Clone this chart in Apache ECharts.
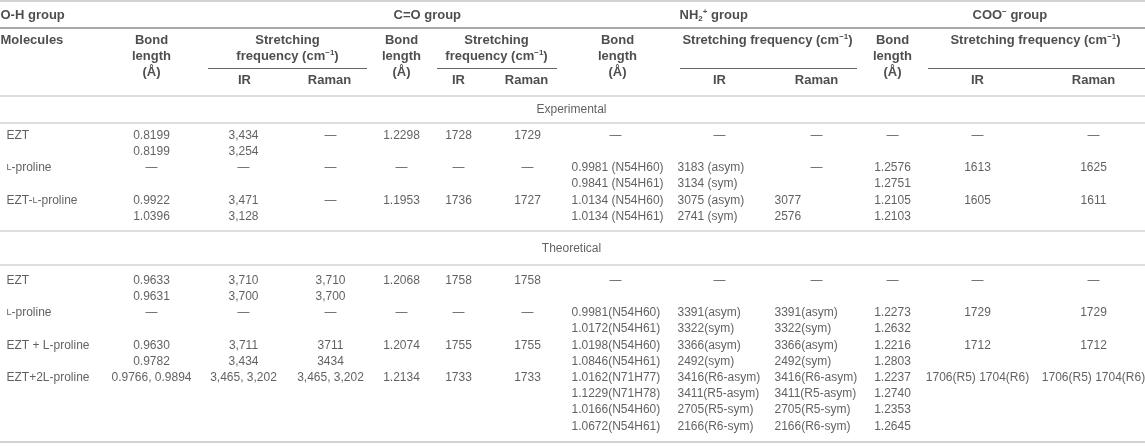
<!DOCTYPE html>
<html lang="en">

<head>
    <meta charset="utf-8">
    <title>bond-table</title>
    <script src="https://cdn.jsdelivr.net/npm/echarts@6/dist/echarts.min.js"></script>
    <style>
        html, body { margin: 0; padding: 0; background: #fff; }
        #container { width: 1145px; height: 446px; }
    </style>
</head>

<body>
<div id="container"></div>
<script>
    // ---- table text ----
    const groupLabels = ["O-H group", "C=O group", "NH{hsub|2}{hsup|+} group", "COO{hsup|\u2212} group"];
    const sectionLabels = ["Experimental", "Theoretical"];
    const subLabels = ["IR", "Raman"];

    // each row: O-H bond, O-H IR, O-H Raman, C=O bond, C=O IR, C=O Raman,
    // NH2 bond, NH2 IR, NH2 Raman, COO bond, COO IR, COO Raman
    const expMolecules = ["EZT", "\u029f-proline", "EZT-\u029f-proline"];
    const expEzt = [["0.8199", "0.8199"], ["3,434", "3,254"], "—", "1.2298", "1728", "1729",
        "—", "—", "—", "—", "—", "—"];
    const expProline = ["—", "—", "—", "—", "—", "—",
        ["0.9981 (N54H60)", "0.9841 (N54H61)"], ["3183 (asym)", "3134 (sym)"], "—",
        ["1.2576", "1.2751"], "1613", "1625"];
    const expComplex = [["0.9922", "1.0396"], ["3,471", "3,128"], "—", "1.1953", "1736", "1727",
        ["1.0134 (N54H60)", "1.0134 (N54H61)"], ["3075 (asym)", "2741 (sym)"], ["3077", "2576"],
        ["1.2105", "1.2103"], "1605", "1611"];

    const theoMolecules = ["EZT", "\u029f-proline", "EZT + L-proline", "EZT+2L-proline"];
    const theoEzt = [["0.9633", "0.9631"], ["3,710", "3,700"], ["3,710", "3,700"], "1.2068", "1758", "1758",
        "—", "—", "—", "—", "—", "—"];
    const theoProline = ["—", "—", "—", "—", "—", "—",
        ["0.9981(N54H60)", "1.0172(N54H61)"], ["3391(asym)", "3322(sym)"], ["3391(asym)", "3322(sym)"],
        ["1.2273", "1.2632"], "1729", "1729"];
    const theoComplex1 = [["0.9630", "0.9782"], ["3,711", "3,434"], ["3711", "3434"], "1.2074", "1755", "1755",
        ["1.0198(N54H60)", "1.0846(N54H61)"], ["3366(asym)", "2492(sym)"], ["3366(asym)", "2492(sym)"],
        ["1.2216", "1.2803"], "1712", "1712"];
    const theoComplex2 = ["0.9766, 0.9894", "3,465, 3,202", "3,465, 3,202", "1.2134", "1733", "1733",
        ["1.0162(N71H77)", "1.1229(N71H78)", "1.0166(N54H60)", "1.0672(N54H61)"],
        ["3416(R6-asym)", "3411(R5-asym)", "2705(R5-sym)", "2166(R6-sym)"],
        ["3416(R6-asym)", "3411(R5-asym)", "2705(R5-sym)", "2166(R6-sym)"],
        ["1.2237", "1.2740", "1.2353", "1.2645"], "1706(R5) 1704(R6)", "1706(R5) 1704(R6)"];

    // ---- layout (pixel units of the hidden axes) ----
    const W = 1145, H = 446;
    const PITCH = 16.2;
    const NAME_X = 7;
    const COLS = [
        {x: 152, align: "center"}, {x: 244, align: "center"}, {x: 331, align: "center"},
        {x: 402, align: "center"}, {x: 459, align: "center"}, {x: 528, align: "center"},
        {x: 572, align: "left", dashX: 616}, {x: 678, align: "left", dashX: 720},
        {x: 775, align: "left", dashX: 817},
        {x: 893, align: "center"}, {x: 978, align: "center"}, {x: 1094, align: "center"}
    ];
    const GROUP_X = [1, 394, 680, 973];
    const BOND_X = [152, 402, 618, 893];
    const STRETCH_X = [288, 497, 768, 1036];
    const IR_X = [245, 459, 720, 978];
    const RAMAN_X = [330, 527, 817, 1094];
    const UNDERLINES = [[208, 367], [437, 557], [680, 857], [928, 1145]];

    const headerCells = [];
    const bodyCells = [];

    function cell(list, x, y, text, align) {
        list.push({value: [x, y], text: text, label: {align: align}});
    }

    // header
    groupLabels.forEach((g, i) => cell(headerCells, GROUP_X[i], 16, g, "left"));
    cell(headerCells, 1, 41, "Molecules", "left");
    BOND_X.forEach(x => {
        cell(headerCells, x, 41, "Bond", "center");
        cell(headerCells, x, 57, "length", "center");
        cell(headerCells, x, 73, "(Å)", "center");
    });
    STRETCH_X.forEach((x, i) => {
        if (i < 2) {
            cell(headerCells, x, 41, "Stretching", "center");
            cell(headerCells, x, 57, "frequency (cm{hsup|\u22121})", "center");
        } else {
            cell(headerCells, x, 41, "Stretching frequency (cm{hsup|\u22121})", "center");
        }
    });
    IR_X.forEach(x => cell(headerCells, x, 81, subLabels[0], "center"));
    RAMAN_X.forEach(x => cell(headerCells, x, 81, subLabels[1], "center"));

    function addSection(label, labelY, molecules, rows, firstY) {
        cell(bodyCells, 572, labelY, label, "center");
        let y = firstY;
        molecules.forEach((name, i) => {
            cell(bodyCells, NAME_X, y, name, "left");
            let maxLines = 2;
            rows[i].forEach((c, j) => {
                const lines = Array.isArray(c) ? c : [c];
                maxLines = Math.max(maxLines, lines.length);
                lines.forEach((t, k) => {
                    const col = COLS[j];
                    if (t === "—" && col.dashX) {
                        cell(bodyCells, col.dashX, y + k * PITCH, t, "center");
                    } else {
                        cell(bodyCells, col.x, y + k * PITCH, t, col.align);
                    }
                });
            });
            y += maxLines * PITCH;
        });
    }

    addSection(sectionLabels[0], 110, expMolecules, [expEzt, expProline, expComplex], 136);
    addSection(sectionLabels[1], 249, theoMolecules, [theoEzt, theoProline, theoComplex1, theoComplex2], 281);

    // rules
    function rule(y, x1, x2, color, width) {
        return [{coord: [x1, y], lineStyle: {color: color, width: width, type: "solid"}}, {coord: [x2, y]}];
    }
    const rules = [
        rule(1, 0, W, "#d2d2d2", 2),
        rule(28, 0, W, "#a8a8a8", 2),
        rule(96, 0, W, "#dedede", 2),
        rule(123, 0, W, "#dedede", 2),
        rule(231, 0, W, "#dedede", 2),
        rule(265, 0, W, "#dedede", 2),
        rule(442, 0, W, "#d2d2d2", 2)
    ];
    UNDERLINES.forEach(u => rules.push(rule(68, u[0], u[1], "#666", 1)));

    const font = "'Liberation Sans', Arial, Helvetica, sans-serif";

    const option = {
        animation: false,
        grid: {left: 0, right: 0, top: 0, bottom: 0},
        xAxis: {type: "value", min: 0, max: W, show: false},
        yAxis: {type: "value", min: 0, max: H, inverse: true, show: false},
        series: [
            {
                type: "scatter",
                silent: true,
                clip: false,
                symbolSize: 1,
                itemStyle: {color: "rgba(0,0,0,0)"},
                data: headerCells,
                label: {
                    show: true,
                    position: [0, 0],
                    verticalAlign: "middle",
                    fontFamily: font,
                    fontSize: 13,
                    fontWeight: "bold",
                    color: "#222",
                    lineHeight: 15,
                    formatter: p => p.data.text,
                    rich: {
                        hsup: {fontFamily: font, fontSize: 8, fontWeight: "bold", color: "#222", lineHeight: 10, verticalAlign: "top"},
                        hsub: {fontFamily: font, fontSize: 8, fontWeight: "bold", color: "#222", lineHeight: 10, verticalAlign: "bottom"}
                    }
                }
            },
            {
                type: "scatter",
                silent: true,
                clip: false,
                symbolSize: 1,
                itemStyle: {color: "rgba(0,0,0,0)"},
                data: bodyCells,
                label: {
                    show: true,
                    position: [0, 0],
                    verticalAlign: "middle",
                    fontFamily: font,
                    fontSize: 12,
                    color: "#3a3a3a",
                    lineHeight: 15,
                    formatter: p => p.data.text.replace(/\u029f/g, "{sc|L}"),
                    rich: {
                        sc: {fontFamily: font, fontSize: 9, color: "#3a3a3a", lineHeight: 15}
                    }
                },
                markLine: {
                    silent: true,
                    symbol: ["none", "none"],
                    label: {show: false},
                    data: rules
                }
            }
        ]
    };

    let chart = echarts.init(document.getElementById("container"));
    chart.setOption(option);
</script>
</body>

</html>
